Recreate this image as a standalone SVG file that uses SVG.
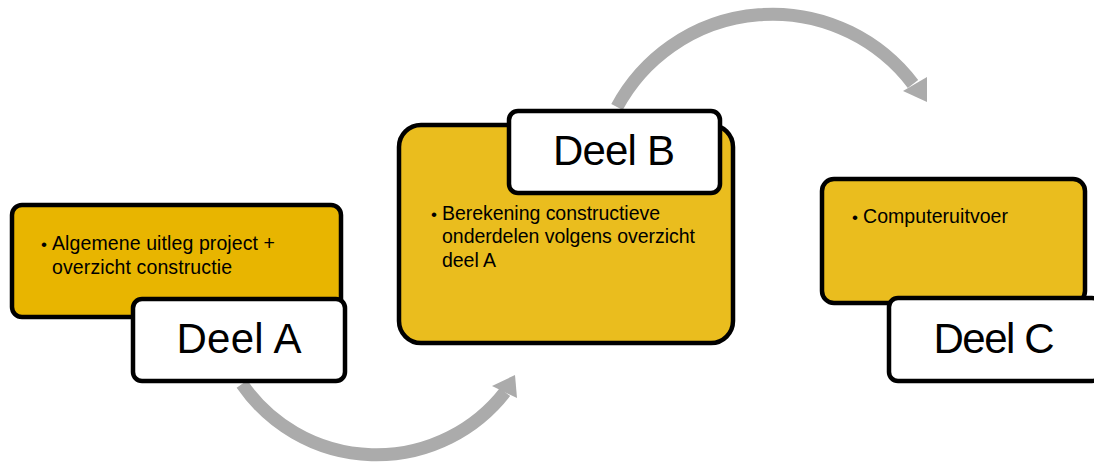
<svg xmlns="http://www.w3.org/2000/svg" width="1094" height="463" viewBox="0 0 1094 463">
<style>
.arc{fill:none;stroke:#ABABAB;stroke-width:13}
.head{fill:#ABABAB}
.ya{fill:#E8B500;stroke:#000;stroke-width:4.5}
.yb{fill:#EABD1E;stroke:#000;stroke-width:4.5}
.wb{fill:#FFFFFF;stroke:#000;stroke-width:4.5}
.lbl{font-family:"Liberation Sans",Arial,sans-serif;font-size:42px;fill:#000;text-anchor:middle}
.txt{font-family:"Liberation Sans",Arial,sans-serif;font-size:19.5px;fill:#000}
.bul{font-family:"Liberation Sans",Arial,sans-serif;font-size:17px;fill:#000}
</style>
<rect width="1094" height="463" fill="#FFFFFF"/>
<g id="connectors">
  <path class="arc" d="M 242 384 A 163 163 0 0 0 505 392"/>
  <polygon class="head" points="515,375 492,386 517,398"/>
  <path class="arc" d="M 617 107 A 176.5 176.5 0 0 1 913 84"/>
  <polygon class="head" points="927,77 903,91 927,102"/>
</g>
<g id="deelA">
  <rect class="ya" x="12" y="205" width="329" height="112" rx="10"/>
  <text class="bul" x="41" y="250">•</text>
  <text class="txt" x="52" y="250" textLength="223">Algemene uitleg project +</text>
  <text class="txt" x="52" y="274" textLength="180">overzicht constructie</text>
  <rect class="wb" x="133" y="299" width="212" height="82" rx="9"/>
  <text class="lbl" x="239" y="353" textLength="125">Deel A</text>
</g>
<g id="deelB">
  <rect class="yb" x="399" y="125" width="334" height="218" rx="22"/>
  <text class="bul" x="431" y="220">•</text>
  <text class="txt" x="442" y="220" textLength="218">Berekening constructieve</text>
  <text class="txt" x="442" y="243" textLength="253">onderdelen volgens overzicht</text>
  <text class="txt" x="442" y="267" textLength="54">deel A</text>
  <rect class="wb" x="509" y="111" width="211" height="82" rx="9"/>
  <text class="lbl" x="614" y="165" textLength="122">Deel B</text>
</g>
<g id="deelC">
  <rect class="yb" x="822" y="179" width="263" height="124" rx="12"/>
  <text class="bul" x="852" y="223">•</text>
  <text class="txt" x="863" y="223" textLength="145">Computeruitvoer</text>
  <rect class="wb" x="889" y="298" width="212" height="83" rx="9"/>
  <text class="lbl" x="994" y="353" textLength="121">Deel C</text>
</g>
</svg>
